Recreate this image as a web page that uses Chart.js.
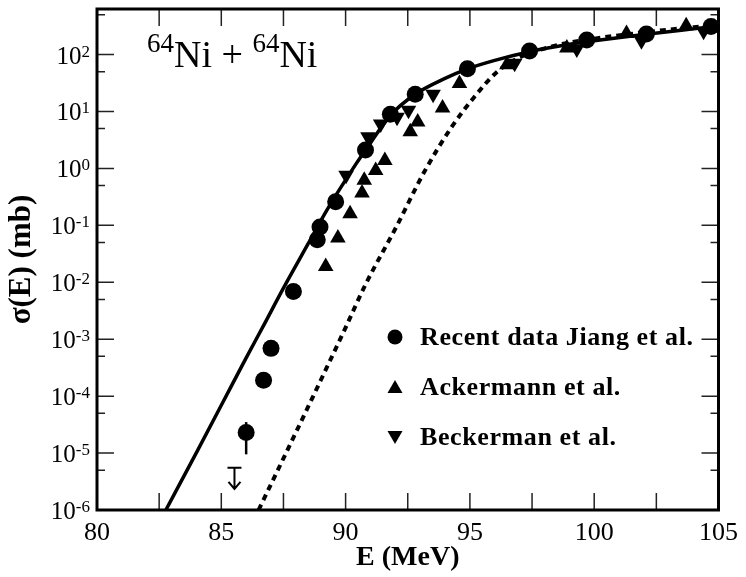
<!DOCTYPE html>
<html>
<head>
<meta charset="utf-8">
<script src="https://cdn.jsdelivr.net/npm/chart.js@4.4.1/dist/chart.umd.min.js"></script>
<style>
  html, body { margin: 0; padding: 0; background: #fff; }
  #wrap { width: 746px; height: 577px; }
</style>
</head>
<body>
<div id="wrap"><canvas id="myChart" width="746" height="577"></canvas></div>
<script>
// E in MeV, sigma in mb
const solidE = [82.77, 84, 85, 86, 86.72, 87.45, 88.5, 89.23, 90.42, 91, 91.8, 92.8, 94, 94.9, 96, 97.4, 99, 100, 102, 104, 105];
const solidSigma = [1e-6, 1.02e-5, 6.9e-5, 4.7e-4, 1.8e-3, 7.2e-3, 0.048, 0.18, 1.2, 2.8, 8.5, 20, 38, 56, 79, 112, 151, 174, 224, 282, 316];

const dottedE = [86.5, 88.04, 89, 90, 90.82, 92, 93.19, 94.25, 95.17, 96.1, 97, 98.2, 99, 100, 102, 104, 105];
const dottedSigma = [1e-6, 2.5e-5, 1.9e-4, 1.6e-3, 9.5e-3, 0.087, 0.91, 5.2, 17.8, 50, 89, 135, 162, 190, 245, 302, 331];

const jiangE = [86.0, 86.7, 87.0, 87.9, 88.86, 88.97, 89.6, 90.8, 91.8, 92.8, 94.9, 97.4, 99.7, 102.1, 104.7];
const jiangSigma = [2.3e-5, 1.9e-4, 6.9e-4, 6.9e-3, 0.056, 0.093, 0.26, 2.1, 8.9, 20, 56, 115, 180, 230, 310];
// error bar on the lowest Jiang point
const jiangErrE = [86.0];
const jiangErrLo = [9.5e-6];
const jiangErrHi = [3.5e-5];
// upper limit
const limitE = [85.53];
const limitSigma = [5.5e-6];

const ackE = [89.2, 89.69, 90.18, 90.66, 90.75, 91.21, 91.58, 92.6, 92.9, 93.9, 94.58, 96.49, 98.9, 101.3, 103.7];
const ackSigma = [0.019, 0.06, 0.16, 0.37, 0.62, 0.92, 1.38, 4.4, 6.5, 11.5, 31, 66, 130, 235, 320];

const beckE = [90.02, 90.9, 91.41, 92.07, 92.53, 93.52, 96.8, 99.3, 101.9, 104.4];
const beckSigma = [0.76, 3.6, 6.0, 7.9, 10.5, 20, 70, 125, 175, 255];

const xTickValues = [82.5, 85, 87.5, 90, 92.5, 95, 97.5, 100, 102.5];
const yMajorTicks = [1e-6, 1e-5, 1e-4, 1e-3, 1e-2, 1e-1, 1, 10, 100];
const yTickExps = ['-6', '-5', '-4', '-3', '-2', '-1', '0', '1', '2'];
const yMinorTicks = [5e-6, 5e-5, 5e-4, 5e-3, 5e-2, 0.5, 5, 50, 500];

const legendNames = ['Recent data Jiang et al.', 'Ackermann et al.', 'Beckerman et al.'];

function pts(xs, ys) {
  return xs.map((v, i) => ({ x: v, y: ys[i] }));
}

const serif = "'Liberation Serif', 'Times New Roman', serif";

// frame, inward ticks, y labels, title, legend, error bar and limit arrow
const decorations = {
  id: 'decorations',
  afterDatasetsDraw(chart) {
    const { ctx, chartArea: a, scales: { x, y } } = chart;
    ctx.save();

    // error bar
    ctx.strokeStyle = '#000';
    ctx.lineWidth = 2.5;
    ctx.beginPath();
    jiangErrE.forEach((e, i) => {
      const px = x.getPixelForValue(e);
      ctx.moveTo(px, y.getPixelForValue(jiangErrLo[i]));
      ctx.lineTo(px, y.getPixelForValue(jiangErrHi[i]));
    });
    ctx.stroke();

    // upper limit arrow
    ctx.lineWidth = 2;
    limitE.forEach((e, i) => {
      const px = x.getPixelForValue(e);
      const py = y.getPixelForValue(limitSigma[i]);
      ctx.beginPath();
      ctx.moveTo(px - 7, py); ctx.lineTo(px + 7, py);
      ctx.moveTo(px, py); ctx.lineTo(px, py + 21);
      ctx.moveTo(px - 6, py + 14); ctx.lineTo(px, py + 21); ctx.lineTo(px + 6, py + 14);
      ctx.stroke();
    });

    // ticks
    ctx.strokeStyle = '#222';
    ctx.lineWidth = 1.5;
    ctx.beginPath();
    xTickValues.forEach(v => {
      const px = x.getPixelForValue(v);
      ctx.moveTo(px, a.bottom); ctx.lineTo(px, a.bottom - 17);
      ctx.moveTo(px, a.top); ctx.lineTo(px, a.top + 17);
    });
    yMajorTicks.forEach(v => {
      const py = y.getPixelForValue(v);
      ctx.moveTo(a.left, py); ctx.lineTo(a.left + 17, py);
      ctx.moveTo(a.right, py); ctx.lineTo(a.right - 17, py);
    });
    yMinorTicks.forEach(v => {
      const py = y.getPixelForValue(v);
      ctx.moveTo(a.left, py); ctx.lineTo(a.left + 8, py);
      ctx.moveTo(a.right, py); ctx.lineTo(a.right - 8, py);
    });
    ctx.stroke();

    // frame
    ctx.strokeStyle = '#000';
    ctx.lineWidth = 3;
    ctx.strokeRect(a.left, a.top, a.right - a.left, a.bottom - a.top);

    // y tick labels 10^n
    ctx.fillStyle = '#000';
    ctx.textBaseline = 'alphabetic';
    yMajorTicks.forEach((v, i) => {
      const py = y.getPixelForValue(v);
      ctx.font = '17px ' + serif;
      const ew = ctx.measureText(yTickExps[i]).width;
      const right = a.left - 7;
      ctx.textAlign = 'left';
      ctx.fillText(yTickExps[i], right - ew, py + 2);
      ctx.font = '25px ' + serif;
      ctx.textAlign = 'right';
      ctx.fillText('10', right - ew, py + 9);
    });

    // reaction label
    let tx = a.left + 50;
    const parts = [['64', 27, -15], ['Ni', 38, 0], [' + ', 38, 0], ['64', 27, -15], ['Ni', 38, 0]];
    ctx.textAlign = 'left';
    parts.forEach(([s, size, dy]) => {
      ctx.font = size + 'px ' + serif;
      ctx.fillText(s, tx, a.top + 58 + dy);
      tx += ctx.measureText(s).width;
    });

    // legend
    const lx = a.left + 298;
    const ly = a.top + 328;
    legendNames.forEach((name, i) => {
      const cy = ly + i * 50;
      ctx.beginPath();
      if (i === 0) {
        ctx.arc(lx, cy, 7.5, 0, Math.PI * 2);
      } else if (i === 1) {
        ctx.moveTo(lx - 7.5, cy + 6); ctx.lineTo(lx + 7.5, cy + 6); ctx.lineTo(lx, cy - 7);
      } else {
        ctx.moveTo(lx - 7.5, cy - 6); ctx.lineTo(lx + 7.5, cy - 6); ctx.lineTo(lx, cy + 7);
      }
      ctx.closePath();
      ctx.fill();
      ctx.font = 'bold 26px ' + serif;
      ctx.letterSpacing = '0.6px';
      ctx.fillText(name, lx + 25, cy + 8);
      ctx.letterSpacing = '0px';
    });

    ctx.restore();
  }
};

new Chart(document.getElementById('myChart'), {
  type: 'scatter',
  data: {
    datasets: [
      {
        type: 'line',
        label: 'solid',
        data: pts(solidE, solidSigma),
        borderColor: '#000',
        borderWidth: 3.5,
        pointRadius: 0,
        cubicInterpolationMode: 'monotone',
        fill: false,
      },
      {
        type: 'line',
        label: 'dotted',
        data: pts(dottedE, dottedSigma),
        borderColor: '#000',
        borderWidth: 4,
        borderDash: [6, 5],
        pointRadius: 0,
        cubicInterpolationMode: 'monotone',
        fill: false,
      },
      {
        label: 'Recent data Jiang et al.',
        data: pts(jiangE, jiangSigma),
        pointStyle: 'circle',
        pointRadius: 8.5,
        backgroundColor: '#000',
        borderWidth: 0,
      },
      {
        label: 'Ackermann et al.',
        data: pts(ackE, ackSigma),
        pointStyle: 'triangle',
        pointRadius: 9,
        backgroundColor: '#000',
        borderWidth: 0,
      },
      {
        label: 'Beckerman et al.',
        data: pts(beckE, beckSigma),
        pointStyle: 'triangle',
        rotation: 180,
        pointRadius: 9,
        backgroundColor: '#000',
        borderWidth: 0,
      },
    ],
  },
  options: {
    responsive: false,
    animation: false,
    layout: { padding: { top: 7, right: 18, left: 0, bottom: 0 } },
    plugins: {
      legend: { display: false },
      tooltip: { enabled: false },
    },
    scales: {
      x: {
        type: 'linear',
        min: 80,
        max: 105,
        grid: { display: false, drawTicks: false },
        border: { display: false },
        ticks: {
          stepSize: 5,
          padding: 8,
          color: '#000',
          font: { family: serif, size: 26 },
          maxRotation: 0,
        },
        title: {
          display: true,
          text: 'E (MeV)',
          color: '#000',
          font: { family: serif, size: 28, weight: 'bold' },
          padding: { top: 0, bottom: 2 },
        },
        afterFit: (s) => { s.height = 67; },
      },
      y: {
        type: 'logarithmic',
        min: 1e-6,
        max: 630,
        grid: { display: false, drawTicks: false },
        border: { display: false },
        ticks: { display: false },
        title: {
          display: true,
          text: 'σ(E) (mb)',
          color: '#000',
          font: { family: serif, size: 31, weight: 'bold' },
          padding: { top: 3, bottom: 0 },
        },
        afterFit: (s) => { s.width = 97; },
      },
    },
  },
  plugins: [decorations],
});
</script>
</body>
</html>
